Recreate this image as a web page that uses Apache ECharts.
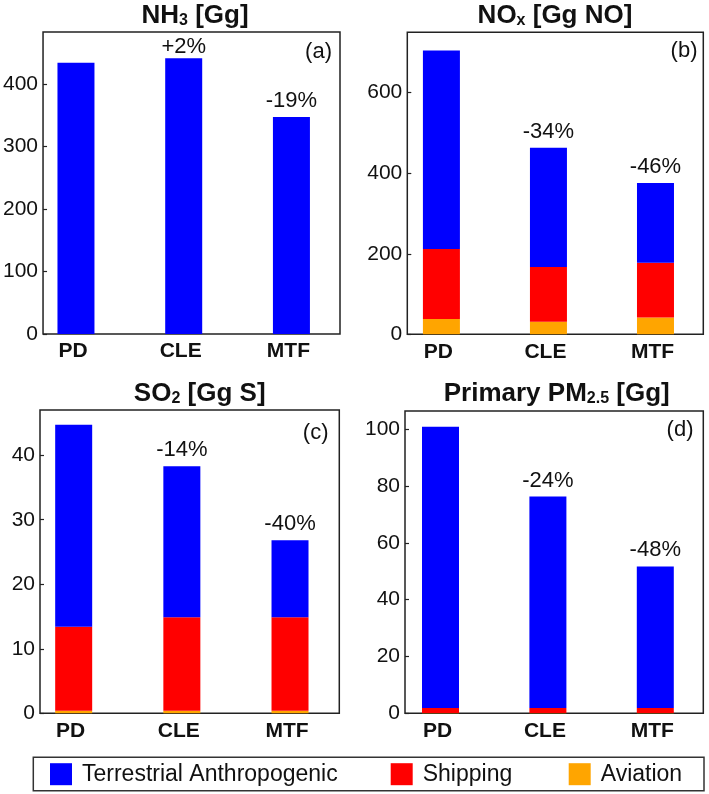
<!DOCTYPE html>
<html><head><meta charset="utf-8">
<script src="https://cdn.jsdelivr.net/npm/echarts@6/dist/echarts.min.js"></script>
<style>html,body{margin:0;padding:0;background:#fff}#c{width:709px;height:794px}</style>
</head><body><div id="c"></div>
<script>
// ---- data ----
const categories = ['PD', 'CLE', 'MTF'];
const seriesNames = ['Terrestrial Anthropogenic', 'Shipping', 'Aviation'];
const seriesColors = ['#0000FF', '#FF0000', '#FFA500'];

const nh3Terrestrial = [434, 441, 347];
const nh3Shipping = [0, 0, 0];
const nh3Aviation = [0, 0, 0];
const nh3Change = ['', '+2%', '-19%'];

const noxTerrestrial = [493, 296, 198];
const noxShipping = [174, 136, 136];
const noxAviation = [38, 31, 42];
const noxChange = ['', '-34%', '-46%'];

const so2Terrestrial = [31.3, 23.4, 11.9];
const so2Shipping = [13.0, 14.5, 14.5];
const so2Aviation = [0.4, 0.4, 0.4];
const so2Change = ['', '-14%', '-40%'];

const pmTerrestrial = [99.0, 74.4, 49.8];
const pmShipping = [1.8, 1.8, 1.8];
const pmAviation = [0.1, 0.1, 0.1];
const pmChange = ['', '-24%', '-48%'];

const yMaxes = [483, 750, 47, 106.4];
const yIntervals = [100, 200, 10, 20];
const panelTags = ['(a)', '(b)', '(c)', '(d)'];

// ---- layout ----
const panels = [
  { title: '{m|NH}{s|3}{m| [Gg]}', tx: 195, ty: 3,
    frame: {left: 41, top: 32, width: 299, height: 302}, bar: {left: 22.1, width: 323.2},
    tagX: 332, tagY: 41, terr: nh3Terrestrial, ship: nh3Shipping, avi: nh3Aviation, chg: nh3Change },
  { title: '{m|NO}{s|x}{m| [Gg NO]}', tx: 555, ty: 3,
    frame: {left: 407.3, top: 32.3, width: 296, height: 302}, bar: {left: 387.9, width: 322.7},
    tagX: 697.5, tagY: 40, terr: noxTerrestrial, ship: noxShipping, avi: noxAviation, chg: noxChange },
  { title: '{m|SO}{s|2}{m| [Gg S]}', tx: 199.7, ty: 380.5,
    frame: {left: 40, top: 410, width: 299.3, height: 303.3}, bar: {left: 19.6, width: 324.5},
    tagX: 328.5, tagY: 421.5, terr: so2Terrestrial, ship: so2Shipping, avi: so2Aviation, chg: so2Change },
  { title: '{m|Primary PM}{s|2.5}{m| [Gg]}', tx: 556.7, ty: 380.5,
    frame: {left: 405, top: 411, width: 298.3, height: 302.3}, bar: {left: 386.8, width: 322.2},
    tagX: 693.5, tagY: 419, terr: pmTerrestrial, ship: pmShipping, avi: pmAviation, chg: pmChange }
];

const FONT = 'Liberation Sans, Arial, Helvetica, sans-serif';
const grids = [], xAxes = [], yAxes = [], series = [], titles = [];

panels.forEach((p, i) => {
  const fi = 2 * i, bi = 2 * i + 1;
  grids.push({ left: p.frame.left, top: p.frame.top, width: p.frame.width, height: p.frame.height,
    show: true, borderColor: '#222', borderWidth: 1.5, backgroundColor: 'transparent' });
  grids.push({ left: p.bar.left, top: p.frame.top, width: p.bar.width, height: p.frame.height });

  xAxes.push({ type: 'category', gridIndex: fi, data: categories, show: false });
  xAxes.push({ type: 'category', gridIndex: bi, data: categories,
    axisLine: { show: false }, axisTick: { show: false },
    axisLabel: { fontFamily: FONT, fontSize: 21, fontWeight: 'bold', color: '#111', margin: 7,
      padding: [0, 6, 0, 0] } });

  yAxes.push({ type: 'value', gridIndex: fi, min: 0, max: yMaxes[i], interval: yIntervals[i],
    axisLine: { show: false }, splitLine: { show: false },
    axisTick: { show: true, inside: true, length: 4, lineStyle: { color: '#222', width: 1.2 } },
    axisLabel: { fontFamily: FONT, fontSize: 21, color: '#111', margin: 5, showMaxLabel: false } });
  yAxes.push({ type: 'value', gridIndex: bi, min: 0, max: yMaxes[i], show: false });

  const stack = 'panel' + i;
  const common = { type: 'bar', stack, xAxisIndex: bi, yAxisIndex: bi, barWidth: 37,
    animation: false, emphasis: { disabled: true } };
  series.push(Object.assign({}, common, { name: seriesNames[2], data: p.avi.slice(),
    itemStyle: { color: seriesColors[2] } }));
  series.push(Object.assign({}, common, { name: seriesNames[1], data: p.ship.slice(),
    itemStyle: { color: seriesColors[1] } }));
  series.push(Object.assign({}, common, { name: seriesNames[0],
    data: p.terr.map((v, k) => {
      const item = { value: v };
      // label on top bar squeezed against the frame in panel (a)
      if (i === 0 && k === 1) item.label = { distance: 0 };
      return item;
    }),
    itemStyle: { color: seriesColors[0] },
    label: { show: true, position: 'top', distance: 5, fontFamily: FONT, fontSize: 22, color: '#111',
      formatter: (prm) => p.chg[prm.dataIndex] } }));

  titles.push({ text: p.title, left: p.tx, top: p.ty, textAlign: 'center', padding: 0,
    textStyle: { rich: {
      m: { fontFamily: FONT, fontSize: 26, fontWeight: 'bold', color: '#111' },
      s: { fontFamily: FONT, fontSize: 16, fontWeight: 'bold', color: '#111', verticalAlign: 'bottom' } } } });
  titles.push({ text: panelTags[i], left: p.tagX, top: p.tagY, textAlign: 'right', padding: 0,
    textStyle: { fontFamily: FONT, fontSize: 22, fontWeight: 'normal', color: '#111' } });
});

const legendLefts = [50, 390.7, 568.7];
const legends = seriesNames.map((n, k) => ({
  data: [n], left: legendLefts[k], top: 762.7, padding: 0, itemWidth: 22, itemHeight: 22,
  icon: 'rect', selectedMode: false,
  itemStyle: { color: seriesColors[k] },
  textStyle: { fontFamily: FONT, fontSize: 23, color: '#111', padding: [0, 0, 0, 5] }
}));

const chart = echarts.init(document.getElementById('c'), null, { renderer: 'canvas' });
chart.setOption({
  backgroundColor: '#fff',
  animation: false,
  title: titles,
  grid: grids,
  xAxis: xAxes,
  yAxis: yAxes,
  legend: legends,
  series: series,
  graphic: [{ type: 'rect', shape: { x: 33.3, y: 757.3, width: 670.7, height: 33.4 },
    style: { fill: 'none', stroke: '#333', lineWidth: 1.5 }, silent: true }]
});
</script></body></html>
